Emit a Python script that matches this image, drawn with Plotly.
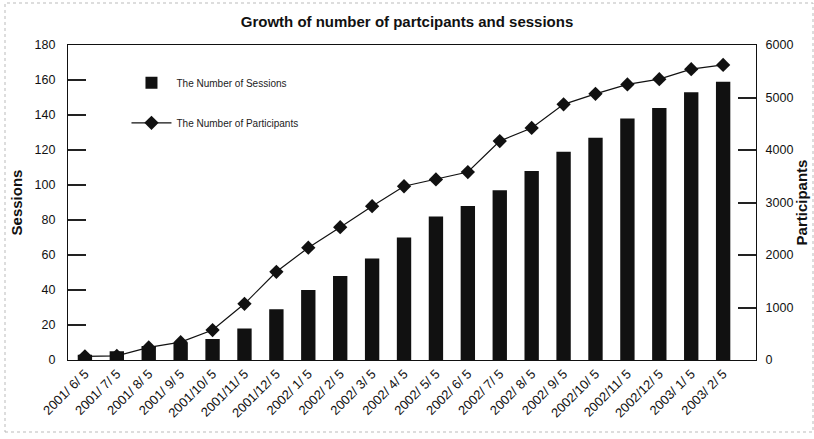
import plotly.graph_objects as go

dates = ["2001/ 6/ 5", "2001/ 7/ 5", "2001/ 8/ 5", "2001/ 9/ 5", "2001/10/ 5",
         "2001/11/ 5", "2001/12/ 5", "2002/ 1/ 5", "2002/ 2/ 5", "2002/ 3/ 5",
         "2002/ 4/ 5", "2002/ 5/ 5", "2002/ 6/ 5", "2002/ 7/ 5", "2002/ 8/ 5",
         "2002/ 9/ 5", "2002/10/ 5", "2002/11/ 5", "2002/12/ 5", "2003/ 1/ 5",
         "2003/ 2/ 5"]
sessions = [3, 5, 8, 10, 12, 18, 29, 40, 48, 58, 70, 82, 88, 97, 108,
            119, 127, 138, 144, 153, 159]
participants = [70, 80, 240, 340, 570, 1070, 1680, 2140, 2530, 2930, 3310,
                3440, 3580, 4170, 4420, 4870, 5070, 5250, 5350, 5540, 5620]

font_family = "Arial, Liberation Sans, Helvetica, sans-serif"
TICK_FRAC = 18 / 688  # length of the inward tick marks as a fraction of plot width

fig = go.Figure()
fig.add_trace(go.Bar(
    x=dates, y=sessions, name="The Number of Sessions",
    legendgroup="s",
    marker=dict(color="#111111", line=dict(width=0)),
    width=0.45, yaxis="y",
))
fig.add_trace(go.Scatter(
    x=dates, y=participants, name="The Number of Participants",
    legendgroup="p",
    mode="lines+markers",
    line=dict(color="#111111", width=1.2),
    marker=dict(symbol="diamond", size=11, color="#111111"),
    yaxis="y2",
))

fig.update_layout(
    width=814, height=439,
    margin=dict(l=68, r=58, t=45, b=79, autoexpand=False),
    paper_bgcolor="white", plot_bgcolor="rgba(0,0,0,0)",
    font=dict(family=font_family, color="#111111", size=12),
    title=dict(text="<b>Growth of number of partcipants and sessions</b>",
               x=0.5, xanchor="center", y=1 - 22 / 439, yanchor="middle",
               font=dict(size=15, family=font_family, color="#111111")),
    showlegend=True,
    legend=dict(x=0.085, y=0.926, xanchor="left", yanchor="top",
                bgcolor="rgba(0,0,0,0)", borderwidth=0,
                font=dict(size=10, family=font_family, color="#222222"),
                tracegroupgap=21, itemwidth=40),
    bargap=0.55,
    xaxis=dict(
        type="category", range=[-0.53, 21.03],
        showline=True, linecolor="#111111", linewidth=1.2, mirror=True,
        ticks="", tickangle=-45,
        tickfont=dict(size=13, family=font_family, color="#111111"),
        showgrid=False, zeroline=False,
    ),
    yaxis=dict(
        range=[0, 180], dtick=20,
        showline=True, linecolor="#111111", linewidth=1.2,
        ticks="inside", ticklen=18, tickcolor="#222222", tickwidth=2,
        ticklabelstandoff=9,
        tickfont=dict(size=12.5, family=font_family, color="#111111"),
        showgrid=False, zeroline=False,
        title=dict(text="<b>Sessions</b>", standoff=8,
                   font=dict(size=15, family=font_family, color="#111111")),
    ),
    yaxis2=dict(
        range=[0, 6000], dtick=1000, overlaying="y", side="right",
        showline=True, linecolor="#111111", linewidth=1.2,
        ticks="inside", ticklen=18, tickcolor="#222222", tickwidth=2,
        ticklabelstandoff=6,
        tickfont=dict(size=12.5, family=font_family, color="#111111"),
        showgrid=False, zeroline=False,
        title=dict(text="<b>Participants</b>", standoff=4,
                   font=dict(size=15, family=font_family, color="#111111")),
    ),
    # narrow helper subplots whose grid lines act as the inward tick marks
    xaxis2=dict(domain=[0, TICK_FRAC], anchor="y3", range=[0, 1],
                showticklabels=False, ticks="", showline=False,
                showgrid=False, zeroline=False, fixedrange=True),
    yaxis3=dict(domain=[0, 1], anchor="x2", range=[0, 180], dtick=20,
                showticklabels=False, ticks="", showline=False,
                showgrid=True, gridcolor="#222222", gridwidth=1.5,
                zeroline=False, fixedrange=True),
    xaxis3=dict(domain=[1 - TICK_FRAC, 1], anchor="y4", range=[0, 1],
                showticklabels=False, ticks="", showline=False,
                showgrid=False, zeroline=False, fixedrange=True),
    yaxis4=dict(domain=[0, 1], anchor="x3", range=[0, 6000], dtick=1000,
                showticklabels=False, ticks="", showline=False,
                showgrid=True, gridcolor="#222222", gridwidth=1.5,
                zeroline=False, fixedrange=True),
)

# faint dotted page frame (scan border)
fig.add_shape(type="rect", xref="paper", yref="paper",
              x0=-63 / 688, x1=745 / 688, y0=-72 / 315, y1=357 / 315,
              line=dict(color="#bbbbbb", width=1, dash="dot"), layer="below")

fig.write_html("out.html")
